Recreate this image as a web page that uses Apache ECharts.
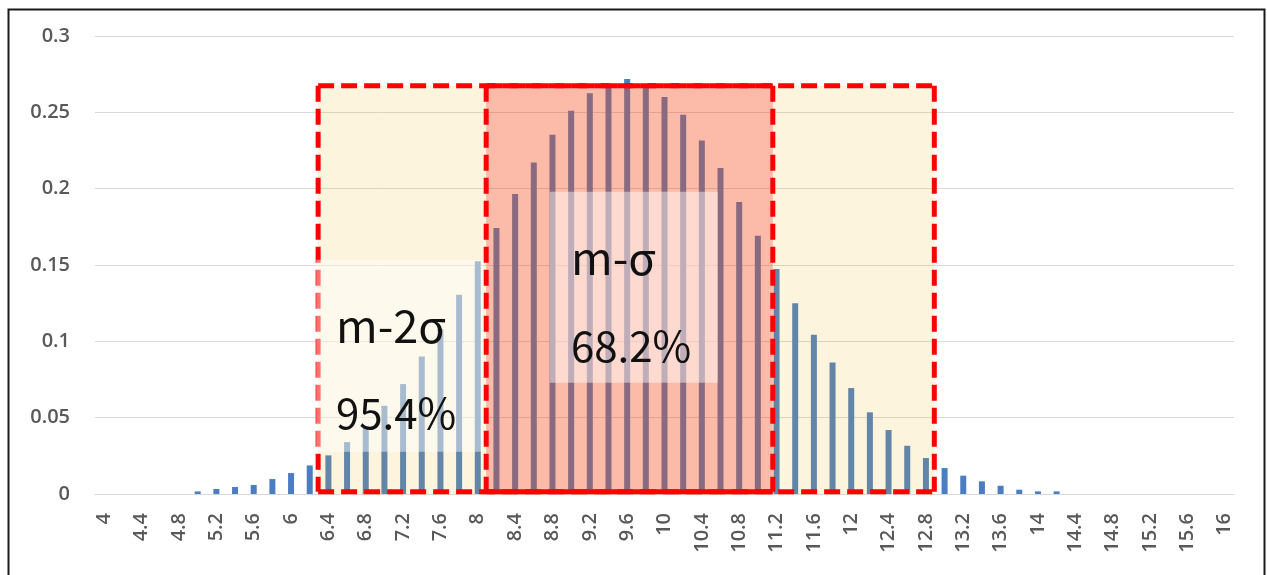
<!DOCTYPE html>
<html><head><meta charset="utf-8">
<script src="https://cdn.jsdelivr.net/npm/echarts@6/dist/echarts.min.js"></script>
<style>html,body{margin:0;padding:0;background:#fff}#c{width:1267px;height:575px}</style>
</head><body><div id="c"></div>
<script>
// ---- data ----
const categories = ['4','4.2','4.4','4.6','4.8','5','5.2','5.4','5.6','5.8','6','6.2','6.4','6.6','6.8','7','7.2','7.4','7.6','7.8','8','8.2','8.4','8.6','8.8','9','9.2','9.4','9.6','9.8','10','10.2','10.4','10.6','10.8','11','11.2','11.4','11.6','11.8','12','12.2','12.4','12.6','12.8','13','13.2','13.4','13.6','13.8','14','14.2','14.4','14.6','14.8','15','15.2','15.4','15.6','15.8','16'];
const probabilities = [0,0,0,0,0,
  0.0017,0.0033,0.0046,0.0059,0.0098,0.0137,0.0187,0.0253,0.034,0.0443,
  0.0578,0.072,0.090,0.108,0.1305,0.1524,0.1742,0.1965,0.2172,0.2353,
  0.2511,0.2625,0.2675,0.2718,0.2685,0.260,0.2484,0.2316,0.2135,0.1913,
  0.1692,0.1474,0.125,0.1043,0.0862,0.0694,0.0535,0.0419,0.0316,0.0236,
  0.017,0.012,0.0083,0.0054,0.0028,0.0017,0.0017,
  0,0,0,0,0,0,0,0,0];
const yMin = 0, yMax = 0.3, yStep = 0.05;
// annotation bands (in x-value units / probability units)
const band2Sigma = {x1: 6.29, x2: 12.89, top: 0.2674, bottom: 0.0015};
const band1Sigma = {x1: 8.09, x2: 11.16, top: 0.2674, bottom: 0.0015};
const labelBox2 = {x1: 6.27, x2: 8.06, y1: 0.0277, y2: 0.1535};
const labelBox1 = {x1: 8.77, x2: 10.57, y1: 0.0729, y2: 0.198};
const labels2Sigma = ['m-2σ', '95.4%'];
const labels1Sigma = ['m-σ', '68.2%'];

const chart = echarts.init(document.getElementById('c'), null, {renderer: 'canvas'});
const labelColor = '#595959';
const axisFont = "'Open Sans', 'Noto Sans', sans-serif";
const font = "'Noto Sans CJK KR', 'Noto Sans', sans-serif";

function rectFrom(api, x1, x2, y1, y2) {
  const a = api.coord([x1, y2]);
  const b = api.coord([x2, y1]);
  return {x: a[0], y: a[1], width: b[0] - a[0], height: b[1] - a[1]};
}

const fillBands = [band2Sigma, band1Sigma];
const fillColors = ['rgba(242,182,35,0.15)', 'rgba(249,29,18,0.265)'];
const whiteBoxes = [labelBox2, labelBox1];

const redStroke = {stroke: '#FF0000', lineWidth: 5, lineDash: [16, 7]};
const redSolid = {stroke: '#FF0000', lineWidth: 5};

chart.setOption({
  animation: false,
  backgroundColor: '#fff',
  grid: {left: 95, right: 33, top: 36, bottom: 81, containLabel: false},
  xAxis: [{
    type: 'category',
    data: categories,
    axisTick: {show: false},
    axisLine: {lineStyle: {color: '#D9D9D9', width: 1}},
    axisLabel: {interval: 1, rotate: 90, color: labelColor, fontSize: 20, fontWeight: 600, fontFamily: axisFont, margin: 19}
  }, {
    type: 'value', min: 3.9, max: 16.1, show: false
  }],
  yAxis: {
    type: 'value', min: yMin, max: yMax, interval: yStep,
    axisLine: {show: false}, axisTick: {show: false},
    splitLine: {lineStyle: {color: '#D9D9D9', width: 1}},
    axisLabel: {color: labelColor, fontSize: 20, fontWeight: 600, fontFamily: axisFont, margin: 25,
      formatter: v => String(+v.toFixed(2))}
  },
  series: [{
    type: 'bar',
    data: probabilities,
    barWidth: 6,
    itemStyle: {color: '#4A7EC0'},
    z: 2
  }, {
    type: 'custom', xAxisIndex: 1, z: 3,
    data: fillBands.map(b => [b.x1, b.x2, 0, b.top]),
    renderItem: (params, api) => ({
      type: 'rect',
      shape: rectFrom(api, api.value(0), api.value(1), api.value(2), api.value(3)),
      style: {fill: fillColors[params.dataIndex]}
    })
  }, {
    type: 'custom', xAxisIndex: 1, z: 5,
    data: fillBands.map(b => [b.x1, b.x2, b.bottom, b.top]),
    renderItem: (params, api) => {
      const tl = api.coord([api.value(0), api.value(3)]);
      const tr = api.coord([api.value(1), api.value(3)]);
      const bl = api.coord([api.value(0), api.value(2)]);
      const br = api.coord([api.value(1), api.value(2)]);
      const solidBottom = params.dataIndex === 1;
      return {type: 'group', children: [
        {type: 'line', shape: {x1: tl[0], y1: tl[1], x2: tr[0], y2: tr[1]}, style: redStroke},
        {type: 'line', shape: {x1: tl[0], y1: tl[1], x2: bl[0], y2: bl[1]}, style: redStroke},
        {type: 'line', shape: {x1: tr[0], y1: tr[1], x2: br[0], y2: br[1]}, style: redStroke},
        {type: 'line', shape: {x1: bl[0], y1: bl[1], x2: br[0], y2: br[1]}, style: solidBottom ? redSolid : redStroke}
      ]};
    }
  }, {
    type: 'custom', xAxisIndex: 1, z: 6,
    data: whiteBoxes.map(b => [b.x1, b.x2, b.y1, b.y2]),
    renderItem: (params, api) => ({
      type: 'rect',
      shape: rectFrom(api, api.value(0), api.value(1), api.value(2), api.value(3)),
      style: {fill: 'rgba(255,255,255,0.45)'}
    })
  }],
  graphic: [
    {type: 'rect', left: 6, top: 7, shape: {width: 1256, height: 600}, style: {fill: 'none', stroke: '#1a1a1a', lineWidth: 2}, silent: true, z: 100},
    {type: 'text', x: 336, y: 326, style: {text: labels2Sigma[0], font: '45px ' + font, fill: '#111', textVerticalAlign: 'middle'}, z: 110},
    {type: 'text', x: 336, y: 413, style: {text: labels2Sigma[1], font: '42px ' + font, fill: '#111', textVerticalAlign: 'middle'}, z: 110},
    {type: 'text', x: 571, y: 258, style: {text: labels1Sigma[0], font: '45px ' + font, fill: '#111', textVerticalAlign: 'middle'}, z: 110},
    {type: 'text', x: 571, y: 346, style: {text: labels1Sigma[1], font: '42px ' + font, fill: '#111', textVerticalAlign: 'middle'}, z: 110}
  ]
});
</script></body></html>
